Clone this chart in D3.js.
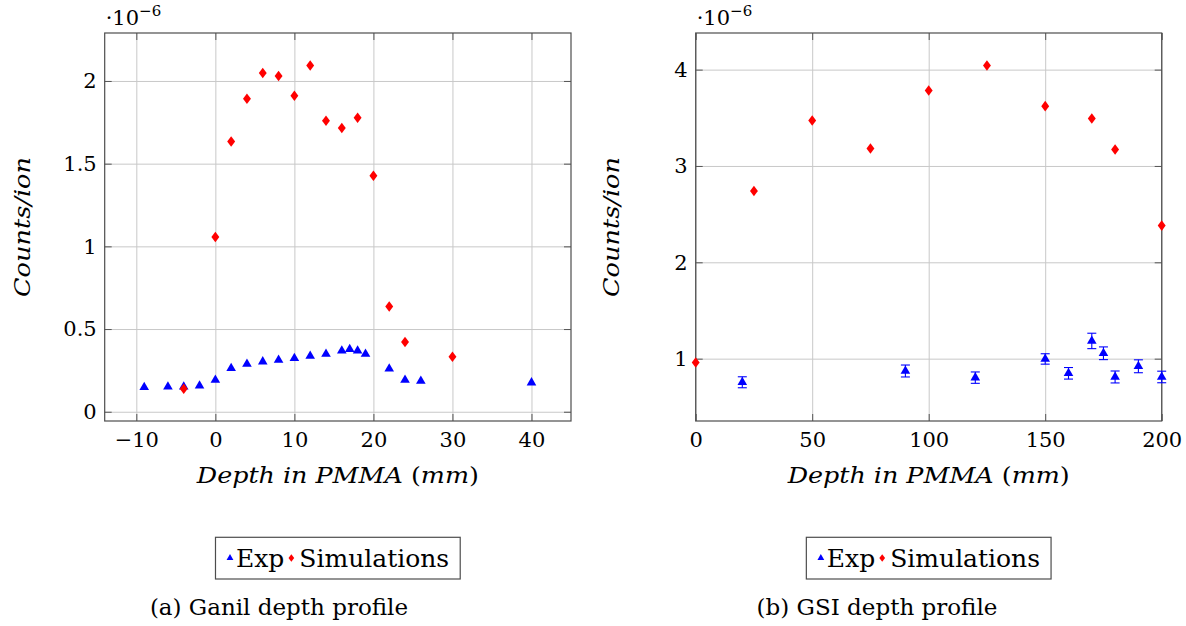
<!DOCTYPE html>
<html>
<head>
<meta charset="utf-8">
<script src="https://cdn.jsdelivr.net/npm/d3@7"></script>
<style>
    body { margin: 0; background: #fff; }
    svg text { font-family: "DejaVu Serif", serif; fill: #000; }
    .grid line { stroke: #c8c8c8; stroke-width: 1; }
    .grid path { display: none; }
    .tick-axis path { display: none; }
    .tick-axis line { stroke: #555; stroke-width: 1; }
</style>
</head>
<body>
<svg id="chart" width="1186" height="626"></svg>
<script>
// Ganil depth profile (values in 1e-6 counts/ion)
var ganilExpDepth = [-9, -6, -4, -2, 0, 2, 4, 6, 8, 10, 12, 14, 16, 17, 18, 19, 22, 24, 26, 40];
var ganilExpCounts = [0.148, 0.151, 0.151, 0.157, 0.192, 0.263, 0.289, 0.303, 0.313, 0.323, 0.337, 0.349,
    0.369, 0.378, 0.369, 0.349, 0.260, 0.192, 0.186, 0.176];
var ganilSimDepth = [-4, 0, 2, 4, 6, 8, 10, 12, 14, 16, 18, 20, 22, 24, 30];
var ganilSimCounts = [0.139, 1.056, 1.634, 1.893, 2.048, 2.030, 1.911, 2.094, 1.760, 1.716, 1.778, 1.427,
    0.636, 0.422, 0.333];
var ganilXTicks = [-10, 0, 10, 20, 30, 40];
var ganilYTicks = [0, 0.5, 1, 1.5, 2];

// GSI depth profile
var gsiExpDepth = [20, 90, 120, 150, 160, 170, 175, 180, 190, 200];
var gsiExpCounts = [0.755, 0.872, 0.803, 0.997, 0.848, 1.184, 1.056, 0.810, 0.921, 0.810];
var gsiExpErr = [0.057, 0.062, 0.059, 0.054, 0.060, 0.080, 0.066, 0.062, 0.067, 0.060];
var gsiSimDepth = [0, 25, 50, 75, 100, 125, 150, 170, 180, 200];
var gsiSimCounts = [0.96, 2.741, 3.471, 3.181, 3.783, 4.043, 3.621, 3.492, 3.170, 2.381];
var gsiXTicks = [0, 50, 100, 150, 200];
var gsiYTicks = [1, 2, 3, 4];

var legendNames = ['Exp', 'Simulations'];
var captions = ['(a) Ganil depth profile', '(b) GSI depth profile'];

var BLUE = '#0000ff', RED = '#ff0000';

// tall diamond like pgfplots "diamond*"
var symbolDiamondTall = {
    draw: function (ctx, size) {
        var a = Math.sqrt(size / 2.67), b = a * 1.33;
        ctx.moveTo(0, -b);
        ctx.lineTo(a, 0);
        ctx.lineTo(0, b);
        ctx.lineTo(-a, 0);
        ctx.closePath();
    }
};

var fmt = function (d) { return String(d).replace('-', '\u2212'); };

var svg = d3.select('#chart');

function drawPanel(o) {
    var w = o.right - o.left, h = o.bottom - o.top;
    var x = d3.scaleLinear().domain(o.xDomain).range([o.left, o.right]);
    var y = d3.scaleLinear().domain(o.yDomain).range([o.bottom, o.top]);

    var g = svg.append('g');

    // grid
    g.append('g').attr('class', 'grid')
        .attr('transform', 'translate(0,' + o.bottom + ')')
        .call(d3.axisBottom(x).tickValues(o.xTicks).tickSize(-h).tickFormat(''));
    g.append('g').attr('class', 'grid')
        .attr('transform', 'translate(' + o.left + ',0)')
        .call(d3.axisLeft(y).tickValues(o.yTicks).tickSize(-w).tickFormat(''));

    // inner ticks on all four sides
    var bottomAxis = g.append('g').attr('class', 'tick-axis')
        .attr('transform', 'translate(0,' + o.bottom + ')')
        .call(d3.axisBottom(x).tickValues(o.xTicks).tickSize(-7).tickPadding(11).tickFormat(fmt));
    g.append('g').attr('class', 'tick-axis')
        .attr('transform', 'translate(0,' + o.top + ')')
        .call(d3.axisTop(x).tickValues(o.xTicks).tickSize(-7).tickFormat(''));
    var leftAxis = g.append('g').attr('class', 'tick-axis')
        .attr('transform', 'translate(' + o.left + ',0)')
        .call(d3.axisLeft(y).tickValues(o.yTicks).tickSize(-7).tickPadding(8).tickFormat(fmt));
    g.append('g').attr('class', 'tick-axis')
        .attr('transform', 'translate(' + o.right + ',0)')
        .call(d3.axisRight(y).tickValues(o.yTicks).tickSize(-7).tickFormat(''));

    [bottomAxis, leftAxis].forEach(function (a) {
        a.selectAll('text')
            .style('font-family', '"DejaVu Serif", serif')
            .style('font-size', '21px')
            .attr('fill', '#000');
    });

    // frame
    g.append('rect')
        .attr('x', o.left).attr('y', o.top)
        .attr('width', w).attr('height', h)
        .attr('fill', 'none').attr('stroke', '#4d4d4d').attr('stroke-width', 1.2);

    // error bars
    if (o.expErr) {
        var eb = g.append('g').attr('stroke', BLUE).attr('stroke-width', 1.1);
        o.expX.forEach(function (d, i) {
            var cx = x(d), y1 = y(o.expY[i] - o.expErr[i]), y2 = y(o.expY[i] + o.expErr[i]);
            eb.append('line').attr('x1', cx).attr('x2', cx).attr('y1', y1).attr('y2', y2);
            eb.append('line').attr('x1', cx - 4.5).attr('x2', cx + 4.5).attr('y1', y1).attr('y2', y1);
            eb.append('line').attr('x1', cx - 4.5).attr('x2', cx + 4.5).attr('y1', y2).attr('y2', y2);
        });
    }

    // markers
    g.append('g').selectAll('path')
        .data(o.expX)
        .enter().append('path')
        .attr('d', d3.symbol().type(d3.symbolTriangle).size(40))
        .attr('transform', function (d, i) { return 'translate(' + x(d) + ',' + y(o.expY[i]) + ')'; })
        .attr('fill', BLUE);

    g.append('g').selectAll('path')
        .data(o.simX)
        .enter().append('path')
        .attr('d', d3.symbol().type(symbolDiamondTall).size(42))
        .attr('transform', function (d, i) { return 'translate(' + x(d) + ',' + y(o.simY[i]) + ')'; })
        .attr('fill', RED);

    // exponent label
    var ex = g.append('text').attr('x', o.left + 1).attr('y', 25);
    ex.append('tspan').attr('font-size', 21).text('\u00b710');
    ex.append('tspan').attr('font-size', 15).attr('dy', -9).text('\u22126');

    // axis titles
    var cx = (o.left + o.right) / 2;
    var xt = g.append('text')
        .attr('x', cx).attr('y', 483)
        .attr('text-anchor', 'middle')
        .attr('font-size', 22)
        .attr('textLength', 282).attr('lengthAdjust', 'spacingAndGlyphs');
    xt.append('tspan').attr('font-style', 'italic').text('Depth in PMMA ');
    xt.append('tspan').text('(');
    xt.append('tspan').attr('font-style', 'italic').text('mm');
    xt.append('tspan').text(')');

    g.append('text')
        .attr('transform', 'translate(' + o.yLabelX + ',' + ((o.top + o.bottom) / 2) + ') rotate(-90)')
        .attr('text-anchor', 'middle')
        .attr('dy', '0.35em')
        .attr('font-size', 23).attr('font-style', 'italic')
        .attr('textLength', 140).attr('lengthAdjust', 'spacingAndGlyphs')
        .text('Counts/ion');

    // legend
    var lg = g.append('g');
    var box = lg.append('rect')
        .attr('fill', '#fff').attr('stroke', '#4d4d4d').attr('stroke-width', 1.2);
    var ly = 558, base = 566.5, pos = 0;
    lg.append('path')
        .attr('d', d3.symbol().type(d3.symbolTriangle).size(20))
        .attr('transform', 'translate(' + (pos + 4) + ',' + ly + ')')
        .attr('fill', BLUE);
    pos += 10;
    var t1 = lg.append('text').attr('x', pos).attr('y', base)
        .attr('font-size', 25).attr('fill', BLUE).text(legendNames[0]);
    pos += t1.node().getComputedTextLength() + 7;
    lg.append('path')
        .attr('d', d3.symbol().type(symbolDiamondTall).size(22))
        .attr('transform', 'translate(' + pos + ',' + ly + ')')
        .attr('fill', RED);
    pos += 8;
    var t2 = lg.append('text').attr('x', pos).attr('y', base)
        .attr('font-size', 25).attr('fill', RED).text(legendNames[1]);
    pos += t2.node().getComputedTextLength();
    var padL = 10.5, padR = 11;
    box.attr('x', -padL).attr('y', 537.3)
        .attr('width', pos + padL + padR).attr('height', 41.7);
    lg.attr('transform', 'translate(' + (cx - (pos + padL + padR) / 2 + padL) + ',0)');

    // caption
    g.append('text')
        .attr('x', o.captionX).attr('y', 615)
        .attr('text-anchor', 'middle')
        .attr('font-size', 23)
        .text(o.caption);
}

drawPanel({
    left: 104.7, right: 571, top: 33, bottom: 421,
    xDomain: [-14, 45], yDomain: [-0.056, 2.29],
    xTicks: ganilXTicks, yTicks: ganilYTicks,
    expX: ganilExpDepth, expY: ganilExpCounts,
    simX: ganilSimDepth, simY: ganilSimCounts,
    yLabelX: 22, captionX: 279, caption: captions[0]
});

drawPanel({
    left: 695.7, right: 1161.7, top: 33, bottom: 421,
    xDomain: [0, 200], yDomain: [0.353, 4.38],
    xTicks: gsiXTicks, yTicks: gsiYTicks,
    expX: gsiExpDepth, expY: gsiExpCounts, expErr: gsiExpErr,
    simX: gsiSimDepth, simY: gsiSimCounts,
    yLabelX: 611, captionX: 877, caption: captions[1]
});
</script>
</body>
</html>
